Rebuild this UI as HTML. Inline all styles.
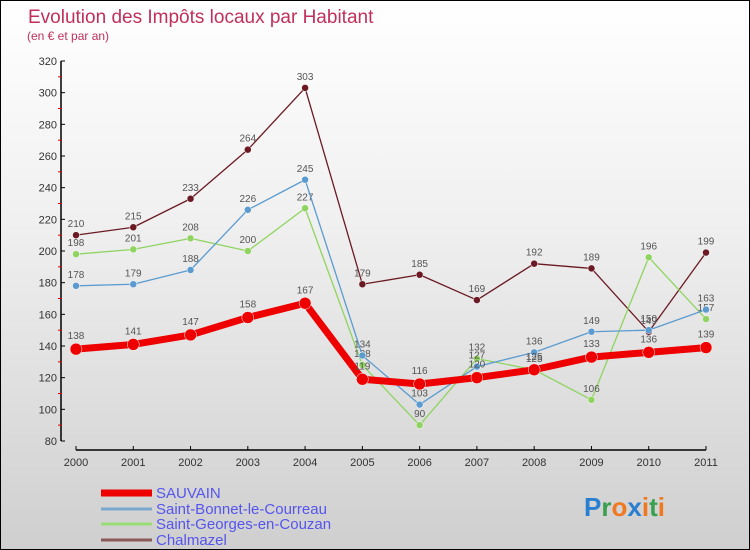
<!DOCTYPE html>
<html><head><meta charset="utf-8"><style>
body{margin:0}
#c{width:750px;height:550px;position:relative;box-sizing:border-box;border:1px solid #000;background:linear-gradient(#fff,#f0f0f0 40%,#cfcfcf);font-family:"Liberation Sans",sans-serif;overflow:hidden}
text{font-family:"Liberation Sans",sans-serif}
</style></head><body>
<div id="c">
<svg id="s" width="750" height="550"></svg>
</div>
<script>
const years=["2000","2001","2002","2003","2004","2005","2006","2007","2008","2009","2010","2011"];
const yTicks=[80,100,120,140,160,180,200,220,240,260,280,300,320];
const sauvain=[138,141,147,158,167,119,116,120,125,133,136,139];
const bonnet=[178,179,188,226,245,134,103,127,136,149,150,163];
const georges=[198,201,208,200,227,128,90,132,125,106,196,157];
const chalmazel=[210,215,233,264,303,179,185,169,192,189,149,199];
const NS="http://www.w3.org/2000/svg";
const svg=document.getElementById('s');
const X=i=>75+i*(630/11);
const Y=v=>440-(v-80)*(380/240);
function mk(tag,attrs,parent){const e=document.createElementNS(NS,tag);for(const k in attrs)e.setAttribute(k,attrs[k]);(parent||svg).appendChild(e);return e;}
let t=mk('text',{x:27,y:22,fill:'#c0305a','font-size':19});t.textContent='Evolution des Impôts locaux par Habitant';


t=mk('text',{x:26,y:39,fill:'#c0305a','font-size':12});t.textContent='(en € et par an)';


let ya=mk('line',{x1:60,y1:60,x2:60,y2:440,stroke:'#000','stroke-width':1.5});


yTicks.forEach((v,i)=>{
 mk('line',{x1:60,y1:Y(v),x2:64,y2:Y(v),stroke:'#000'});
 if(i<yTicks.length-1) mk('line',{x1:57,y1:Y(v+10),x2:61,y2:Y(v+10),stroke:'#d00'});
 const l=mk('text',{x:56,y:Y(v)+4,'text-anchor':'end','font-size':11,fill:'#333'});l.textContent=v;
 
 
});
let xa=mk('line',{x1:75,y1:449,x2:705,y2:449,stroke:'#000','stroke-width':1.5});


years.forEach((y,i)=>{
 mk('line',{x1:X(i),y1:445,x2:X(i),y2:449,stroke:'#000'});
 const l=mk('text',{x:X(i),y:465,'text-anchor':'middle','font-size':11,fill:'#333'});l.textContent=y;
 
 
});
function series(data,color,w,r,name,dy){
 const g=mk('g',{});
 
 
 mk('polyline',{points:data.map((v,i)=>X(i)+','+Y(v)).join(' '),fill:'none',stroke:color,'stroke-width':w,'stroke-linejoin':'round'},g);
 data.forEach((v,i)=>{
  const c=mk('circle',{cx:X(i),cy:Y(v),r:r,fill:color,stroke:'#fff','stroke-width':0.5},g);
  
  
  const l=mk('text',{x:X(i),y:Y(v)-dy,'text-anchor':'middle','font-size':10,fill:'#555'},g);l.textContent=v;
  
  
 });
}
series(chalmazel,'#6b1a24',1.3,3.5,'chalmazel-series',8);
series(georges,'#8fd460',1.3,3.5,'saint-georges-series',8);
series(bonnet,'#5b9bd0',1.3,3.5,'saint-bonnet-series',8);
series(sauvain,'#ee0000',7,6,'sauvain-series',10);
const leg=[['SAUVAIN','#ee0000',7,492],['Saint-Bonnet-le-Courreau','#7aa8cc',3,508],['Saint-Georges-en-Couzan','#99dd77',3,523],['Chalmazel','#8a5a5a',3,539]];
leg.forEach(e=>{
 const y=e[3];
 const g=mk('g',{});
 
 
 mk('line',{x1:100,y1:y,x2:151,y2:y,stroke:e[1],'stroke-width':e[2]},g);
 const l=mk('text',{x:155,y:y+5,'font-size':15,fill:'#5555ee'},g);l.textContent=e[0];
});
const p=mk('text',{x:583,y:515,'font-size':26,'font-weight':'bold'});


[['P','#2a7fd0'],['r','#3aa050'],['o','#f07820'],['x','#2a7fd0'],['i','#f07820'],['t','#3aa050'],['i','#f07820']].forEach(a=>{mk('tspan',{fill:a[1]},p).textContent=a[0];});
</script>
</body></html>
